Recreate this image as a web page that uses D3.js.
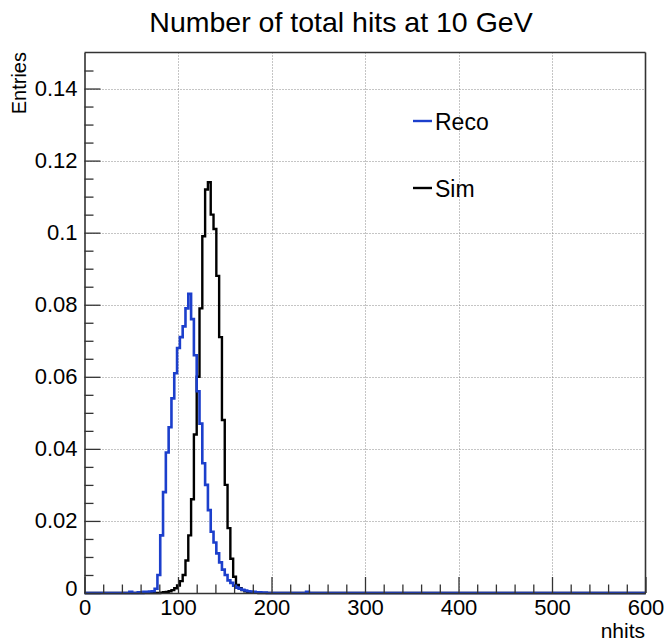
<!DOCTYPE html>
<html>
<head>
<meta charset="utf-8">
<script src="https://cdn.jsdelivr.net/npm/d3@7"></script>
<style>
  html, body { margin: 0; padding: 0; background: #fff; }
  svg { display: block; font-family: "Liberation Sans", Arial, Helvetica, sans-serif; }
</style>
</head>
<body>
<svg id="chart" width="667" height="641"></svg>
<script>
// ---------------- data ----------------
const chartTitle = "Number of total hits at 10 GeV";
const xTitle = "nhits";
const yTitle = "Entries";
const binWidth = 3;
const xMin = 0, xMax = 600;
const yMin = 0, yMax = 0.15;

const xTickValues = [0, 100, 200, 300, 400, 500, 600];
const xTickLabels = ["0", "100", "200", "300", "400", "500", "600"];
const yTickValues = [0, 0.02, 0.04, 0.06, 0.08, 0.1, 0.12, 0.14];
const yTickLabels = ["0", "0.02", "0.04", "0.06", "0.08", "0.1", "0.12", "0.14"];

const seriesNames = ["Reco", "Sim"];

// Sim (black): lower bin edges and normalised contents
const simEdges = [81, 84, 87, 90, 93, 96, 99, 102, 105, 108, 111, 114, 117, 120, 123, 126, 129,
                  132, 135, 138, 141, 144, 147, 150, 153, 156, 159, 162, 165, 168, 171, 174, 177, 180, 183];
const simValues = [0.0001, 0.0002, 0.0003, 0.0005, 0.0008, 0.0013, 0.0021, 0.0033, 0.0050, 0.0090, 0.0160,
                   0.0260, 0.0440, 0.0600, 0.0790, 0.0990, 0.1120, 0.1140, 0.1050, 0.1010, 0.0880,
                   0.0710, 0.0480, 0.0300, 0.0180, 0.0095, 0.0045, 0.0022, 0.0013, 0.0008, 0.0005,
                   0.0003, 0.0002, 0.0001, 0.0001];

// Reco (blue): lower bin edges and normalised contents
const recoEdges = [48, 57, 63, 66, 69, 72, 75, 78, 81, 84, 87, 90, 93, 96, 99, 102, 105, 108, 111, 114,
                   117, 120, 123, 126, 129, 132, 135, 138, 141, 144, 147, 150, 153, 156, 159, 162,
                   165, 168, 171, 174, 177, 180, 183, 186, 189, 192, 237];
const recoValues = [0.0003, 0.0002, 0.0003, 0.0003, 0.0004, 0.0005, 0.0012, 0.0050, 0.0160, 0.0280,
                    0.0390, 0.0460, 0.0540, 0.0610, 0.0680, 0.0710, 0.0740, 0.0790, 0.0830, 0.0760,
                    0.0660, 0.0560, 0.0470, 0.0360, 0.0300, 0.0230, 0.0170, 0.0140, 0.0110, 0.0085,
                    0.0065, 0.0050, 0.0035, 0.0028, 0.0020, 0.0015, 0.0012, 0.0009, 0.0007, 0.0005,
                    0.0004, 0.0003, 0.0002, 0.0002, 0.0001, 0.0001, 0.0003];

// ---------------- drawing ----------------
const svg = d3.select("#chart");
const colors = { Reco: "#1c3fcc", Sim: "#000000" };

const x = d3.scaleLinear().domain([xMin, xMax]).range([84.5, 645.5]);
const y = d3.scaleLinear().domain([yMin, yMax]).range([593, 52.5]);

// grid
const grid = svg.append("g").attr("stroke", "#8a8a8a").attr("stroke-width", 1)
  .attr("stroke-dasharray", "1,2");
grid.selectAll("line.gx").data(xTickValues.slice(1, -1)).join("line")
  .attr("x1", d => Math.round(x(d)) + 0.5).attr("x2", d => Math.round(x(d)) + 0.5)
  .attr("y1", y(yMax)).attr("y2", y(yMin));
grid.selectAll("line.gy").data(yTickValues.slice(1)).join("line")
  .attr("y1", d => Math.round(y(d)) + 0.5).attr("y2", d => Math.round(y(d)) + 0.5)
  .attr("x1", x(xMin)).attr("x2", x(xMax));

// histogram path helper
function histPath(edges, values) {
  const nBins = Math.round((xMax - xMin) / binWidth);
  const content = new Array(nBins).fill(0);
  edges.forEach((e, i) => { content[Math.round((e - xMin) / binWidth)] = values[i]; });
  const p = d3.path();
  p.moveTo(x(xMin), y(content[0]));
  for (let i = 0; i < nBins; i++) {
    p.lineTo(x(xMin + (i + 1) * binWidth), y(content[i]));
    if (i + 1 < nBins) p.lineTo(x(xMin + (i + 1) * binWidth), y(content[i + 1]));
  }
  return p.toString();
}

svg.append("path").attr("d", histPath(simEdges, simValues))
  .attr("fill", "none").attr("stroke", colors.Sim).attr("stroke-width", 2.4);
svg.append("path").attr("d", histPath(recoEdges, recoValues))
  .attr("fill", "none").attr("stroke", colors.Reco).attr("stroke-width", 2.6);

// frame (top & right)
svg.append("line").attr("x1", x(xMin)).attr("x2", x(xMax)).attr("y1", y(yMax)).attr("y2", y(yMax))
  .attr("stroke", "#333").attr("stroke-width", 1.6);
svg.append("line").attr("x1", x(xMax)).attr("x2", x(xMax)).attr("y1", y(yMax)).attr("y2", y(yMin))
  .attr("stroke", "#333").attr("stroke-width", 1.6);

// axes
const fontSize = 22;
const xMinor = d3.range(xMin, xMax + 1, 20).filter(v => v % 100 !== 0);
const yMinor = d3.range(0, 30).map(i => i * 0.005).filter(v => Math.abs(v / 0.02 - Math.round(v / 0.02)) > 1e-6);

const xAxis = d3.axisBottom(x).tickValues(xTickValues).tickSize(-16).tickSizeOuter(0)
  .tickPadding(6).tickFormat((d, i) => xTickLabels[i]);
const gx = svg.append("g").attr("transform", `translate(0,${y(yMin)})`).call(xAxis);
gx.append("g").call(d3.axisBottom(x).tickValues(xMinor).tickSize(-8.5).tickFormat(""))
  .select(".domain").remove();

const yAxis = d3.axisLeft(y).tickValues(yTickValues).tickSize(-16).tickSizeOuter(0)
  .tickPadding(7).tickFormat((d, i) => yTickLabels[i]);
const gy = svg.append("g").attr("transform", `translate(${x(xMin)},0)`).call(yAxis);
gy.append("g").call(d3.axisLeft(y).tickValues(yMinor).tickSize(-9).tickFormat(""))
  .select(".domain").remove();

[gx, gy].forEach(g => {
  g.selectAll(".domain").attr("stroke", "#333").attr("stroke-width", 1.6);
  g.selectAll(".tick line").attr("stroke", "#333").attr("stroke-width", 1.3);
  g.selectAll("text").attr("font-size", fontSize).attr("fill", "#000")
    .attr("font-family", "'Liberation Sans', Arial, Helvetica, sans-serif");
});
gx.selectAll(".tick text").attr("dy", "0.71em");
// ROOT-like placement of the "0" y label
gy.selectAll(".tick text").filter((d) => d === 0).attr("dy", "0.1em");

// titles
svg.append("text").attr("x", 341).attr("y", 32).attr("text-anchor", "middle")
  .attr("font-size", 28.5).text(chartTitle);
svg.append("text").attr("x", 645).attr("y", 638).attr("text-anchor", "end")
  .attr("font-size", 21).text(xTitle);
svg.append("text").attr("transform", "translate(25.5,52) rotate(-90)").attr("text-anchor", "end")
  .attr("font-size", 20).text(yTitle);

// legend
const legendY = { Reco: 121, Sim: 188 };
const lg = svg.append("g");
seriesNames.forEach(name => {
  lg.append("line").attr("x1", 413).attr("x2", 432)
    .attr("y1", legendY[name]).attr("y2", legendY[name])
    .attr("stroke", colors[name]).attr("stroke-width", 2.4);
  lg.append("text").attr("x", 435).attr("y", legendY[name] + 8.5)
    .attr("font-size", 23).text(name);
});
</script>
</body>
</html>
